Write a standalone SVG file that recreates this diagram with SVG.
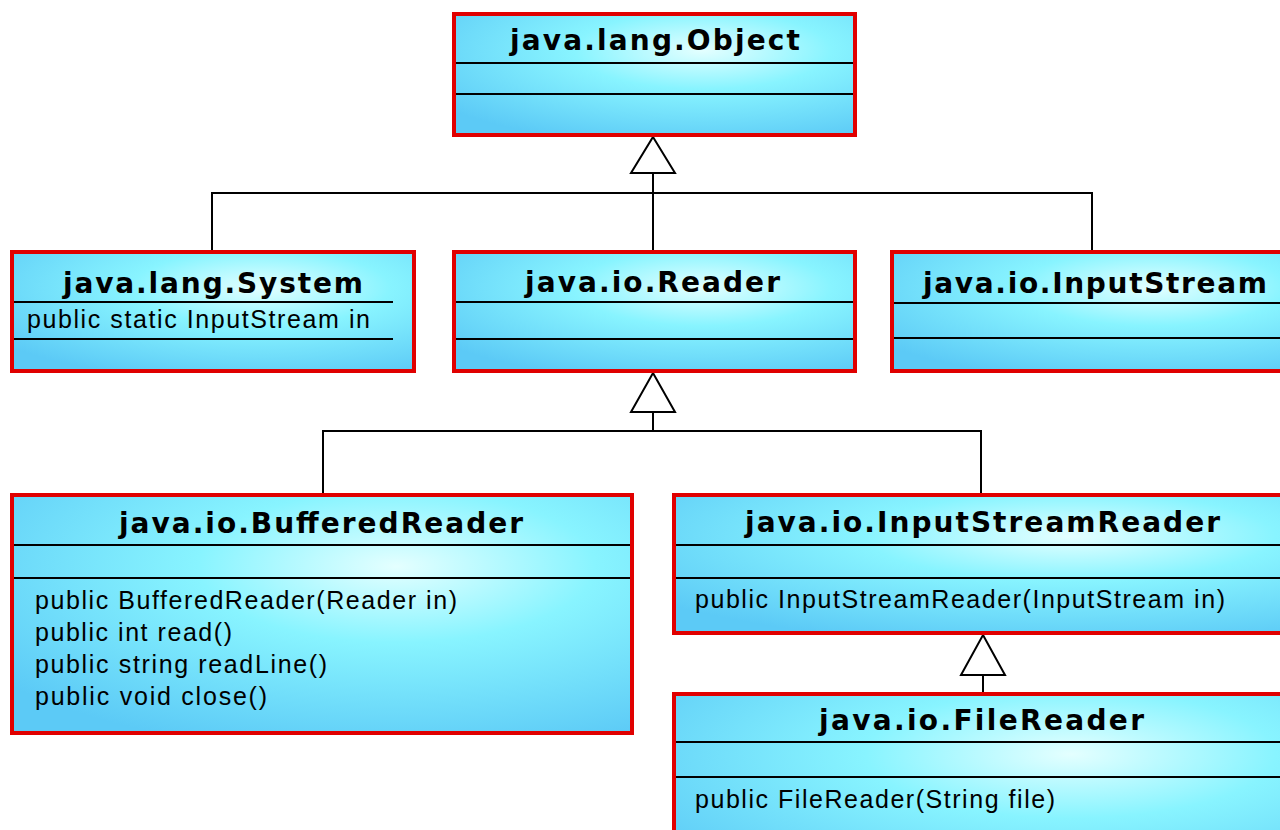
<svg xmlns="http://www.w3.org/2000/svg" width="1280" height="830" viewBox="0 0 1280 830">
<defs>
<radialGradient id="fill" cx="0.62" cy="0.3" r="0.8">
<stop offset="0" stop-color="#e4ffff"/>
<stop offset="0.4" stop-color="#88f4ff"/>
<stop offset="1" stop-color="#5ccaf6"/>
</radialGradient>
<style>
.box{fill:url(#fill);stroke:#e00000;stroke-width:4}
.div{stroke:#000;stroke-width:2}
.title{font-family:"DejaVu Sans",sans-serif;font-weight:bold;font-size:28px;fill:#000}
.m{font-family:"Liberation Sans",Arial,sans-serif;font-size:25px;fill:#000}
.conn{stroke:#000;stroke-width:2;fill:none}
.tri{fill:#fff;stroke:#000;stroke-width:2}
</style>
</defs>
<rect width="1280" height="830" fill="#fff"/>

<g id="connectors">
<line class="conn" x1="653" y1="173" x2="653" y2="252"/>
<line class="conn" x1="211" y1="193" x2="1093" y2="193"/>
<line class="conn" x1="212" y1="193" x2="212" y2="252"/>
<line class="conn" x1="1092" y1="193" x2="1092" y2="252"/>
<polygon class="tri" points="653,137 675,173 631,173"/>

<line class="conn" x1="653" y1="412" x2="653" y2="431"/>
<line class="conn" x1="322" y1="431" x2="982" y2="431"/>
<line class="conn" x1="323" y1="431" x2="323" y2="495"/>
<line class="conn" x1="981" y1="431" x2="981" y2="495"/>
<polygon class="tri" points="653,373 675,412 631,412"/>

<line class="conn" x1="983" y1="675" x2="983" y2="694"/>
<polygon class="tri" points="983,635 1005,675 961,675"/>
</g>

<g id="object">
<rect class="box" x="454" y="14" width="401" height="121"/>
<line class="div" x1="456" y1="63" x2="853" y2="63"/>
<line class="div" x1="456" y1="94" x2="853" y2="94"/>
<text class="title" x="510" y="50" textLength="290" lengthAdjust="spacing">java.lang.Object</text>
</g>

<g id="system">
<rect class="box" x="12" y="252" width="402" height="119"/>
<line class="div" x1="14" y1="302" x2="393" y2="302"/>
<line class="div" x1="14" y1="339" x2="393" y2="339"/>
<text class="title" x="63" y="293" textLength="300" lengthAdjust="spacing">java.lang.System</text>
<text class="m" x="27" y="328" textLength="343" lengthAdjust="spacing">public static InputStream in</text>
</g>

<g id="reader">
<rect class="box" x="454" y="252" width="401" height="119"/>
<line class="div" x1="456" y1="302" x2="853" y2="302"/>
<line class="div" x1="456" y1="339" x2="853" y2="339"/>
<text class="title" x="525" y="292" textLength="255" lengthAdjust="spacing">java.io.Reader</text>
</g>

<g id="inputstream">
<rect class="box" x="892" y="252" width="420" height="119"/>
<line class="div" x1="894" y1="303" x2="1280" y2="303"/>
<line class="div" x1="894" y1="338" x2="1280" y2="338"/>
<text class="title" x="923" y="293" textLength="344" lengthAdjust="spacing">java.io.InputStream</text>
</g>

<g id="bufferedreader">
<rect class="box" x="12" y="495" width="620" height="238"/>
<line class="div" x1="14" y1="545" x2="630" y2="545"/>
<line class="div" x1="14" y1="578" x2="630" y2="578"/>
<text class="title" x="119" y="533" textLength="404" lengthAdjust="spacing">java.io.BufferedReader</text>
<text class="m" x="35" y="609" textLength="422" lengthAdjust="spacing">public BufferedReader(Reader in)</text>
<text class="m" x="35" y="641" textLength="197" lengthAdjust="spacing">public int read()</text>
<text class="m" x="35" y="673" textLength="292" lengthAdjust="spacing">public string readLine()</text>
<text class="m" x="35" y="705" textLength="232" lengthAdjust="spacing">public void close()</text>
</g>

<g id="inputstreamreader">
<rect class="box" x="674" y="495" width="640" height="138"/>
<line class="div" x1="676" y1="545" x2="1280" y2="545"/>
<line class="div" x1="676" y1="578" x2="1280" y2="578"/>
<text class="title" x="745" y="532" textLength="475" lengthAdjust="spacing">java.io.InputStreamReader</text>
<text class="m" x="695" y="608" textLength="530" lengthAdjust="spacing">public InputStreamReader(InputStream in)</text>
</g>

<g id="filereader">
<rect class="box" x="674" y="694" width="640" height="200"/>
<line class="div" x1="676" y1="742" x2="1280" y2="742"/>
<line class="div" x1="676" y1="777" x2="1280" y2="777"/>
<text class="title" x="819" y="730" textLength="325" lengthAdjust="spacing">java.io.FileReader</text>
<text class="m" x="695" y="808" textLength="360" lengthAdjust="spacing">public FileReader(String file)</text>
</g>
</svg>
